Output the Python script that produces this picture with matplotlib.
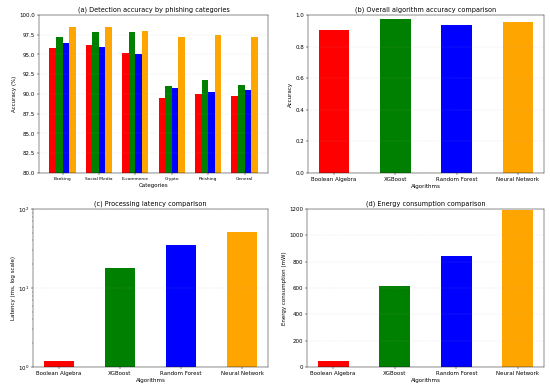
import numpy as np
import matplotlib
matplotlib.use("Agg")
import matplotlib.pyplot as plt

# data
categories = ['Banking', 'Social Media', 'E-commerce', 'Crypto', 'Phishing', 'General']
algorithms = ['Boolean Algebra', 'XGBoost', 'Random Forest', 'Neural Network']
colors = ['red', 'green', 'blue', 'orange']

acc_boolean = [95.8, 96.2, 95.2, 89.5, 90.0, 89.8]
acc_xgboost = [97.2, 97.8, 97.8, 91.0, 91.8, 91.2]
acc_rf = [96.5, 96.0, 95.0, 90.8, 90.2, 90.5]
acc_nn = [98.5, 98.5, 98.0, 97.2, 97.5, 97.2]

overall_accuracy = [0.905, 0.975, 0.935, 0.955]
latency_ms = [1.2, 18, 35.5, 50.5]
energy_mw = [45, 615, 845, 1190]

fig, axes = plt.subplots(2, 2, figsize=(14, 9.877), dpi=550 / 14)

# (a) カテゴリ別の精度
ax = axes[0, 0]
x = np.arange(len(categories))
w = 0.18
for i, vals in enumerate([acc_boolean, acc_xgboost, acc_rf, acc_nn]):
    ax.bar(x + (i - 1.5) * w, vals, w, color=colors[i], label=algorithms[i])
ax.set_ylim(80, 100)
ax.set_xticks(x)
ax.set_xticklabels(categories, fontsize=8)
ax.set_xlabel('Categories')
ax.set_ylabel('Accuracy (%)')
ax.set_title('(a) Detection accuracy by phishing categories')
ax.grid(axis='y', linestyle='--', alpha=0.3)

# (b) 全体の精度
ax = axes[0, 1]
ax.bar(algorithms, overall_accuracy, 0.5, color=colors)
ax.set_ylim(0, 1.0)
ax.set_xlabel('Algorithms')
ax.set_ylabel('Accuracy')
ax.set_title('(b) Overall algorithm accuracy comparison')
ax.grid(axis='y', linestyle='--', alpha=0.3)

# (c) レイテンシ（対数スケール）
ax = axes[1, 0]
ax.bar(algorithms, latency_ms, 0.5, color=colors)
ax.set_yscale('log')
ax.set_ylim(1, 100)
ax.set_xlabel('Algorithms')
ax.set_ylabel('Latency (ms, log scale)')
ax.set_title('(c) Processing latency comparison')
ax.grid(axis='y', linestyle='--', alpha=0.3)

# (d) 消費電力
ax = axes[1, 1]
ax.bar(algorithms, energy_mw, 0.5, color=colors)
ax.set_ylim(0, 1200)
ax.set_xlabel('Algorithms')
ax.set_ylabel('Energy consumption (mW)')
ax.set_title('(d) Energy consumption comparison')
ax.grid(axis='y', linestyle='--', alpha=0.3)

# 参照画像に合わせて各軸の位置を指定
axes[0, 0].set_position([0.0709, 0.5541, 0.4164, 0.4072])
axes[0, 1].set_position([0.5600, 0.5541, 0.4291, 0.4072])
axes[1, 0].set_position([0.0600, 0.0541, 0.4273, 0.4072])
axes[1, 1].set_position([0.5582, 0.0541, 0.4309, 0.4072])

plt.savefig('out.png')
